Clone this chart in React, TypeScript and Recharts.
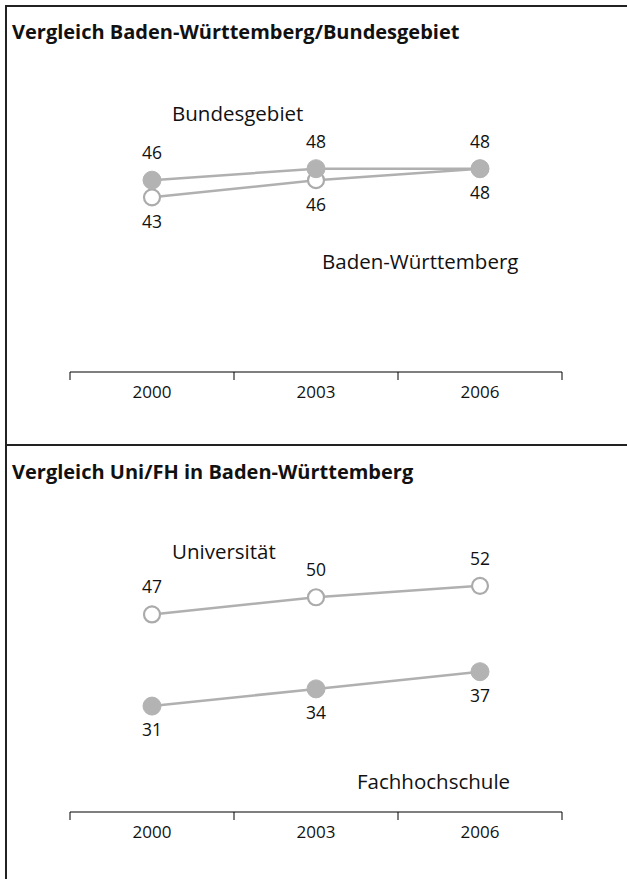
import { LineChart, Line, XAxis, YAxis, LabelList } from 'recharts';

const years = ['2000', '2003', '2006'];
const bundesgebiet = [46, 48, 48];
const badenWuerttemberg = [43, 46, 48];
const universitaet = [47, 50, 52];
const fachhochschule = [31, 34, 37];

const FONT = '"Open Sans", "Noto Sans", sans-serif';
const CHART_W = 627;
const CHART_H = 440;
const MARGIN = { top: 100, right: 65, left: 70, bottom: 28 };
const BAND = (CHART_W - MARGIN.left - MARGIN.right) / years.length;

function YearTick(props: any) {
  const { x, y, payload, index } = props;
  const half = BAND / 2;
  return (
    <g>
      <line x1={x - half} x2={x - half} y1={y - 8} y2={y} stroke="#000" strokeWidth={1} />
      {index === years.length - 1 && (
        <line x1={x + half} x2={x + half} y1={y - 8} y2={y} stroke="#000" strokeWidth={1} />
      )}
      <text x={x} y={y + 18} textAnchor="middle" fontSize={17} fill="#111" fontFamily={FONT}>
        {payload.value}
      </text>
    </g>
  );
}

interface PanelProps {
  title: string;
  top: number;
  hollow: number[];
  filled: number[];
  hollowLabelPos: 'top' | 'bottom';
  filledLabelPos: 'top' | 'bottom';
  notes: { text: string; x: number; y: number }[];
}

function Panel({ title, top, hollow, filled, hollowLabelPos, filledLabelPos, notes }: PanelProps) {
  const data = years.map((year, i) => ({ year, hollow: hollow[i], filled: filled[i] }));
  const off = (pos: string) => (pos === 'top' ? 21 : 18);
  return (
    <div style={{ position: 'absolute', left: 0, top, width: CHART_W, height: CHART_H }}>
      <div
        style={{
          position: 'absolute',
          left: 12,
          top: 19,
          fontSize: 20,
          fontWeight: 700,
          color: '#111',
          whiteSpace: 'nowrap',
          lineHeight: '26px',
        }}
      >
        {title}
      </div>
      {notes.map((n) => (
        <div
          key={n.text}
          style={{
            position: 'absolute',
            left: n.x,
            top: n.y - 13,
            fontSize: 20.5,
            lineHeight: '26px',
            color: '#111',
            whiteSpace: 'nowrap',
          }}
        >
          {n.text}
        </div>
      ))}
      <LineChart width={CHART_W} height={CHART_H} data={data} margin={MARGIN} style={{ position: 'absolute', left: 0, top: 0 }}>
        <XAxis
          dataKey="year"
          scale="band"
          height={40}
          axisLine={{ stroke: '#000', strokeWidth: 1 }}
          tickLine={false}
          tickSize={8}
          tickMargin={0}
          tick={<YearTick />}
          interval={0}
        />
        <YAxis hide width={0} domain={[12.5, 60]} />
        <Line
          dataKey="hollow"
          stroke="#b0b0b0"
          strokeWidth={2.5}
          dot={{ r: 8, fill: '#fff', stroke: '#ababab', strokeWidth: 2.2 }}
          activeDot={false}
          isAnimationActive={false}
        >
          <LabelList dataKey="hollow" position={hollowLabelPos} offset={off(hollowLabelPos)} fontSize={17.5} fill="#111" fontFamily={FONT} />
        </Line>
        <Line
          dataKey="filled"
          stroke="#b0b0b0"
          strokeWidth={2.5}
          dot={{ r: 9, fill: '#b3b3b3', stroke: '#b3b3b3', strokeWidth: 1 }}
          activeDot={false}
          isAnimationActive={false}
        >
          <LabelList dataKey="filled" position={filledLabelPos} offset={off(filledLabelPos)} fontSize={17.5} fill="#111" fontFamily={FONT} />
        </Line>
      </LineChart>
    </div>
  );
}

export default function App() {
  return (
    <div style={{ position: 'absolute', left: 0, top: 0, width: CHART_W, height: 879, fontFamily: FONT, overflow: 'hidden' }}>
      <div
        style={{
          position: 'absolute',
          left: 5,
          top: 5,
          width: 622,
          height: 874,
          boxSizing: 'border-box',
          borderLeft: '2px solid #222',
          borderTop: '2px solid #222',
        }}
      />
      <div style={{ position: 'absolute', left: 5, top: 444, width: 622, height: 2, background: '#222' }} />
      <Panel
        title="Vergleich Baden-Württemberg/Bundesgebiet"
        top={0}
        hollow={badenWuerttemberg}
        filled={bundesgebiet}
        hollowLabelPos="bottom"
        filledLabelPos="top"
        notes={[
          { text: 'Bundesgebiet', x: 172, y: 113 },
          { text: 'Baden-Württemberg', x: 322, y: 261 },
        ]}
      />
      <Panel
        title="Vergleich Uni/FH in Baden-Württemberg"
        top={440}
        hollow={universitaet}
        filled={fachhochschule}
        hollowLabelPos="top"
        filledLabelPos="bottom"
        notes={[
          { text: 'Universität', x: 172, y: 111 },
          { text: 'Fachhochschule', x: 357, y: 341 },
        ]}
      />
    </div>
  );
}
